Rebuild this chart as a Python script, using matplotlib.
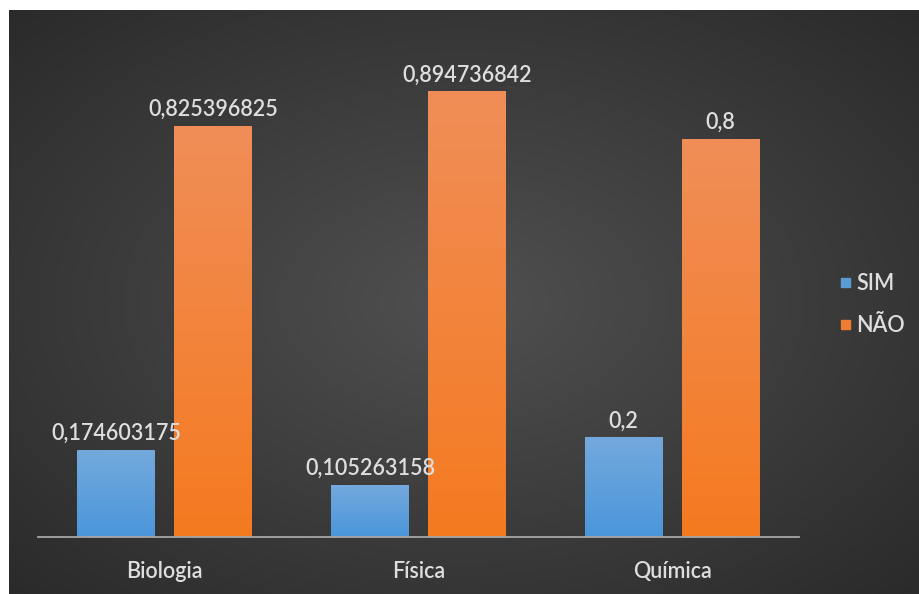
import numpy as np
import matplotlib
matplotlib.use("Agg")
import matplotlib.pyplot as plt
from matplotlib.colors import LinearSegmentedColormap

categories = ["Biologia", "Física", "Química"]
sim = [0.174603175, 0.105263158, 0.2]
nao = [0.825396825, 0.894736842, 0.8]
sim_labels = ["0,174603175", "0,105263158", "0,2"]
nao_labels = ["0,825396825", "0,894736842", "0,8"]

W, H = 919, 594
fig = plt.figure(figsize=(W / 100, H / 100), dpi=100)
fig.patch.set_facecolor("white")

# background panel with radial gradient
bg = fig.add_axes([9 / W, 0, (W - 9) / W, (H - 10) / H])
bg.set_axis_off()
yy, xx = np.mgrid[0:1:300j, 0:1:460j]
r = np.sqrt(((xx - 0.5) / 0.75) ** 2 + ((yy - 0.5) / 0.75) ** 2)
r = np.clip(r / 0.95, 0, 1)
c_in = np.array([0x50, 0x50, 0x50]) / 255
c_out = np.array([0x2a, 0x2a, 0x2a]) / 255
img = c_in[None, None, :] * (1 - r[..., None]) + c_out[None, None, :] * r[..., None]
bg.imshow(img, aspect="auto", extent=[0, 1, 0, 1], interpolation="bilinear")
bg.set_xlim(0, 1)
bg.set_ylim(0, 1)

font = "Lato"
fw = "semibold"
tc = "#dedede"
fs = 15.5

ax = fig.add_axes([38 / W, (H - 537) / H, (799 - 38) / W, (537 - 39) / H])
ax.patch.set_alpha(0)
for s in ["top", "right", "left"]:
    ax.spines[s].set_visible(False)
ax.spines["bottom"].set_color("#a6a6a6")
ax.spines["bottom"].set_linewidth(1.3)
ax.set_yticks([])
x = np.arange(len(categories))
ax.set_xticks(x)
ax.set_xticklabels(categories, fontsize=fs, color=tc, fontfamily=font, fontweight=fw)
ax.tick_params(axis="x", length=0, pad=17)

bw = 0.307
off = 0.191
blue_cm = LinearSegmentedColormap.from_list("b", ["#4a96db", "#74a9dd"])
orange_cm = LinearSegmentedColormap.from_list("o", ["#f57a20", "#f08e58"])
grad = np.linspace(0, 1, 256).reshape(-1, 1)

def gbar(xc, h, cmap):
    bars = ax.bar(xc, h, width=bw, color="none", edgecolor="none")
    for b in bars:
        x0, y0 = b.get_x(), b.get_y()
        im = ax.imshow(grad, cmap=cmap, aspect="auto", origin="lower",
                       extent=[x0, x0 + b.get_width(), y0, y0 + b.get_height()],
                       zorder=2)
        im.set_clip_path(b)
    return bars

gbar(x - off, sim, blue_cm)
gbar(x + off, nao, orange_cm)
ax.set_xlim(-0.5, 2.5)
ax.set_ylim(0, 1)
ax.set_aspect("auto")

for i in range(len(categories)):
    ax.text(x[i] - off, sim[i] + 0.012, sim_labels[i], ha="center", va="bottom",
            fontsize=fs, color=tc, fontfamily=font, fontweight=fw, zorder=3)
    ax.text(x[i] + off, nao[i] + 0.012, nao_labels[i], ha="center", va="bottom",
            fontsize=fs, color=tc, fontfamily=font, fontweight=fw, zorder=3)

# legend
for lab, col, yl in [("SIM", "#5b9bd5", 283), ("NÃO", "#ed7d31", 325)]:
    fig.patches.append(plt.Rectangle((841 / W, (H - yl - 4) / H), 9 / W, 9 / H,
                                     transform=fig.transFigure, color=col))
    fig.text(856 / W, (H - yl) / H, lab, fontsize=fs, color=tc, fontfamily=font,
             fontweight=fw, va="center", ha="left")

fig.savefig("out.png", dpi=100, facecolor=fig.get_facecolor())
